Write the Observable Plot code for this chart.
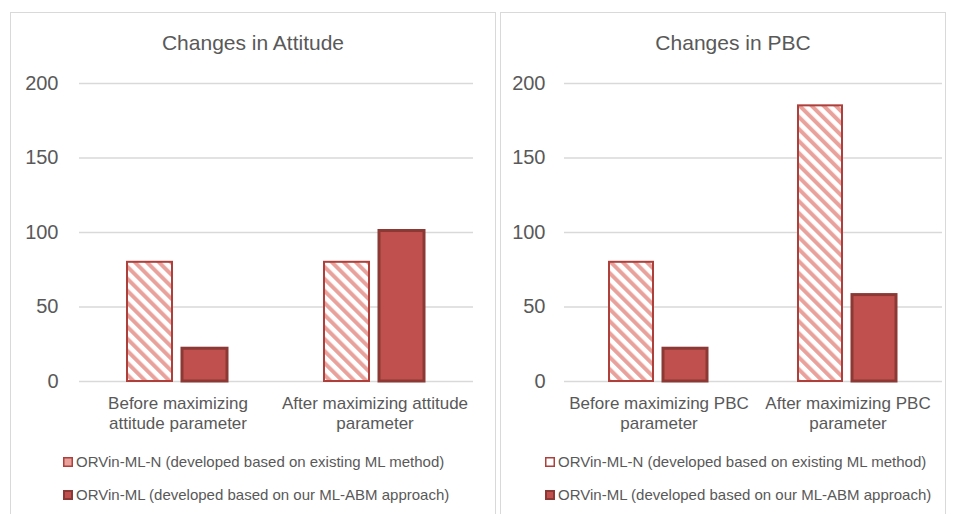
<!DOCTYPE html>
<html>
<head>
<meta charset="utf-8">
<script src="https://cdn.jsdelivr.net/npm/d3@7"></script>
<script src="https://cdn.jsdelivr.net/npm/@observablehq/plot@0.6"></script>
<style>
  html, body { margin: 0; padding: 0; background: #fff; overflow: hidden; }
  body { width: 953px; height: 514px; position: relative; font-family: "Liberation Sans", Arial, sans-serif; color: #595959; }
  .panel { position: absolute; border: 1.5px solid #d9d9d9; box-sizing: border-box; }
  .title { position: absolute; text-align: center; font-size: 21px; line-height: 24px; color: #595959; white-space: nowrap; }
  .chart { position: absolute; }
  .legend-row { position: absolute; display: flex; align-items: center; font-size: 15px; line-height: 20px; white-space: nowrap; color: #595959; }
  .legend-row svg { margin-right: 3px; }
</style>
</head>
<body>
<svg width="0" height="0" style="position:absolute">
  <defs>
    <pattern id="hatch" patternUnits="userSpaceOnUse" width="8.5" height="8.5" patternTransform="rotate(-45)">
      <rect width="8.5" height="8.5" fill="#ffffff"></rect>
      <rect width="4" height="8.5" fill="#E9A19C"></rect>
    </pattern>
  </defs>
</svg>

<div class="panel" style="left:10px; top:12px; width:486px; height:520px;"></div>
<div class="panel" style="left:500px; top:12px; width:446px; height:520px;"></div>

<div class="title" style="left:103px; top:31px; width:300px;">Changes in Attitude</div>
<div class="title" style="left:583px; top:31px; width:300px;">Changes in PBC</div>

<div id="chartL" class="chart" style="left:0px; top:70px;"></div>
<div id="chartR" class="chart" style="left:500px; top:70px;"></div>

<div id="legendL"></div>
<div id="legendR"></div>

<script>
// ---- data ----
const seriesKeys = ["N", "ML"];
const seriesNames = [
  "ORVin-ML-N (developed based on existing ML method)",
  "ORVin-ML (developed based on our ML-ABM approach)"
];
const attitudeCategories = ["Before maximizing\nattitude parameter", "After maximizing attitude\nparameter"];
const attitudeN = [80, 80];
const attitudeML = [22, 101];

const pbcCategories = ["Before maximizing PBC\nparameter", "After maximizing PBC\nparameter"];
const pbcN = [80, 185];
const pbcML = [22, 58];

const yTicks = [0, 50, 100, 150, 200];

// ---- chart builder ----
function makeChart({cats, nVals, mlVals, width, marginLeft, marginRight, tickPadding, padOuter}) {
  const data = cats.flatMap((c, i) => [
    {cat: c, series: seriesKeys[0], value: nVals[i]},
    {cat: c, series: seriesKeys[1], value: mlVals[i]}
  ]);
  return Plot.plot({
    width,
    height: 371,
    marginTop: 13,
    marginBottom: 60,
    marginLeft,
    marginRight,
    style: {fontFamily: "'Liberation Sans', Arial, sans-serif", color: "#595959", background: "transparent", overflow: "visible"},
    fx: {domain: cats, padding: 0, label: null},
    x: {domain: seriesKeys, paddingInner: 0.18, paddingOuter: padOuter, axis: null},
    y: {domain: [0, 200], label: null},
    marks: [
      Plot.gridY(yTicks, {stroke: "#d9d9d9", strokeOpacity: 1, strokeWidth: 1.5}),
      Plot.axisY(yTicks, {tickSize: 0, tickPadding, fontSize: 20, label: null, fill: "#595959"}),
      Plot.axisFx({anchor: "bottom", tickSize: 0, tickPadding: 13, fontSize: 17, lineHeight: 1.18, label: null, fill: "#595959"}),
      Plot.barY(data.filter(d => d.series === "N"), {fx: "cat", x: "series", y: "value", fill: "url(#hatch)", stroke: "#AE3F3A", strokeWidth: 2}),
      Plot.barY(data.filter(d => d.series === "ML"), {fx: "cat", x: "series", y: "value", fill: "#C0504D", stroke: "#8C3835", strokeWidth: 3})
    ]
  });
}

document.getElementById("chartL").append(makeChart({
  cats: attitudeCategories, nVals: attitudeN, mlVals: attitudeML,
  width: 490, marginLeft: 79, marginRight: 17, tickPadding: 21, padOuter: 0.85
}));
document.getElementById("chartR").append(makeChart({
  cats: pbcCategories, nVals: pbcN, mlVals: pbcML,
  width: 446, marginLeft: 64, marginRight: 4, tickPadding: 19, padOuter: 0.81
}));

// ---- legends ----
function legend(containerId, left, tops, firstFill) {
  const c = document.getElementById(containerId);
  const styles = [
    {fill: firstFill, stroke: "#AE3F3A", sw: 1.5},
    {fill: "#C0504D", stroke: "#8C3835", sw: 2}
  ];
  seriesNames.forEach((name, i) => {
    const row = document.createElement("div");
    row.className = "legend-row";
    row.style.left = left + "px";
    row.style.top = (tops[i] - 10) + "px";
    const s = styles[i];
    row.innerHTML = `<svg width="10" height="10"><rect x="${s.sw/2}" y="${s.sw/2}" width="${10 - s.sw}" height="${10 - s.sw}" fill="${s.fill}" stroke="${s.stroke}" stroke-width="${s.sw}"></rect></svg><span></span>`;
    row.querySelector("span").textContent = name;
    c.append(row);
  });
}
legend("legendL", 63, [462, 495], "#E9A19C");
legend("legendR", 545, [462, 495], "#ffffff");
</script>
</body>
</html>
